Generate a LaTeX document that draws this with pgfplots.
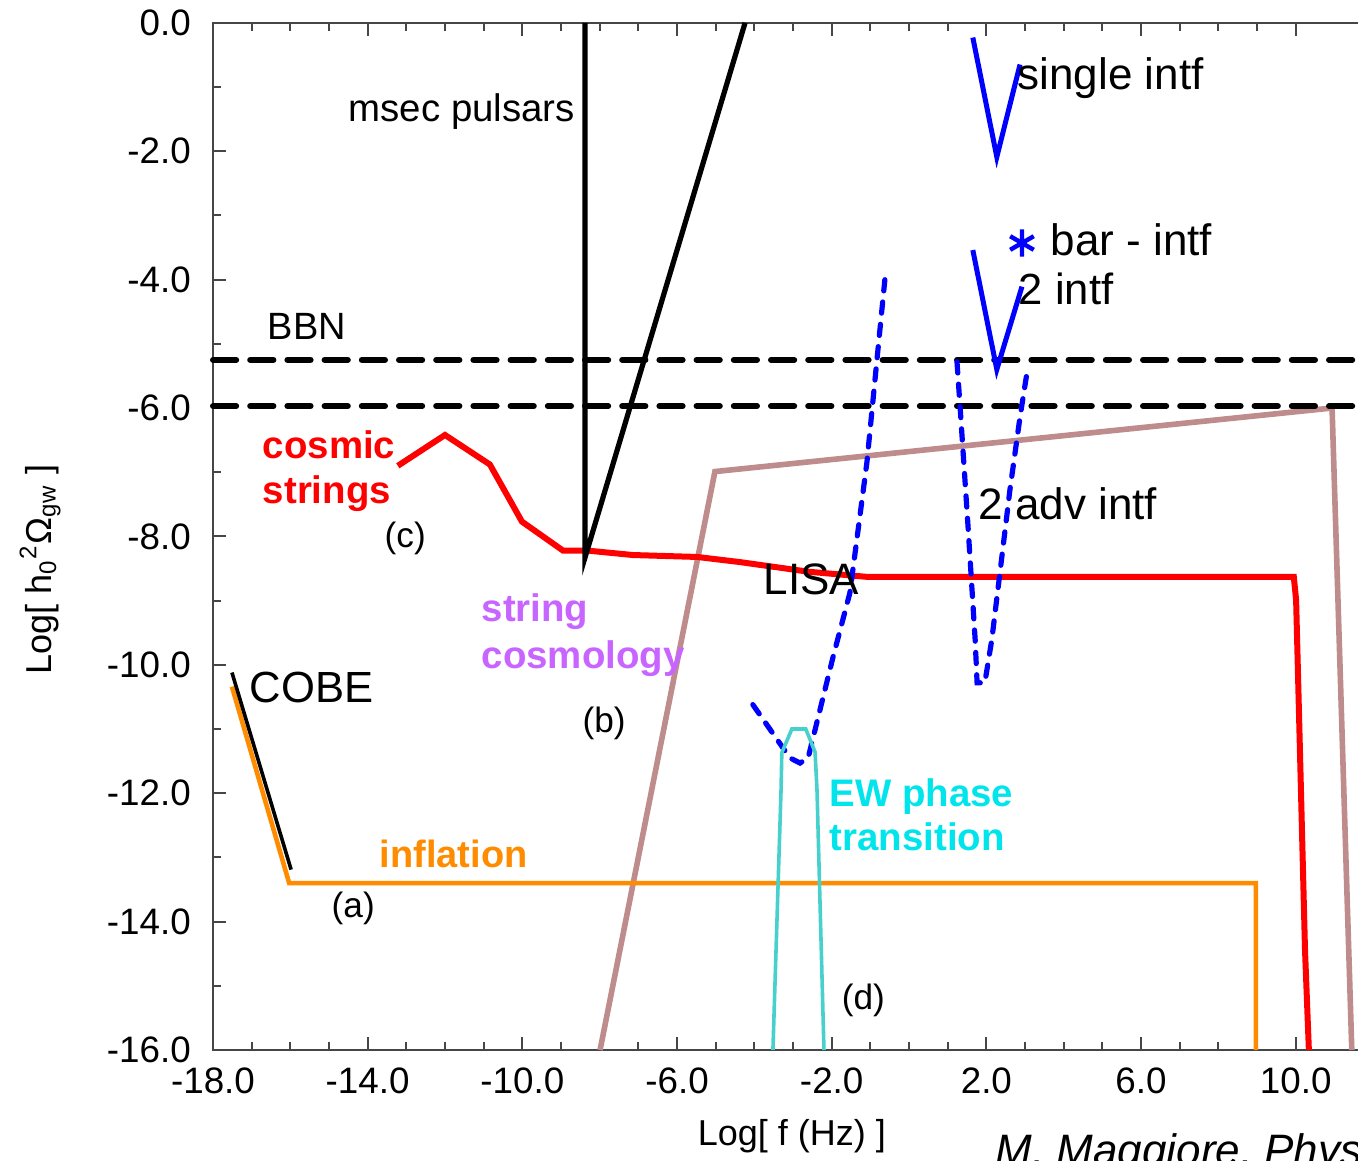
\documentclass[border=0pt]{standalone}
\usepackage{fontspec}
\setmainfont{Liberation Sans}
\usepackage{pgfplots}
\pgfplotsset{compat=1.18}
\definecolor{rosy}{RGB}{190,140,140}
\definecolor{orng}{RGB}{255,140,0}
\definecolor{turq}{RGB}{72,209,204}
\definecolor{cyantxt}{RGB}{0,228,235}
\definecolor{violettxt}{RGB}{200,100,255}
\definecolor{framegray}{RGB}{70,70,70}

\begin{document}
\begin{tikzpicture}[lbl/.style={anchor=base west, inner sep=0pt}]
\begin{axis}[
    name=ax,
    x=9.667pt, y=16.05pt,
    xmin=-18, xmax=12, ymin=-16, ymax=0,
    clip=false,
    axis line style={framegray, line width=0.5pt},
    tick style={framegray, line width=0.5pt},
    tick align=inside,
    major tick length=3.3pt, minor tick length=2pt,
    xtick={-18,-14,...,10},
    xticklabels={-18.0,-14.0,-10.0,-6.0,-2.0,2.0,6.0,10.0},
    ytick={-16,-14,...,0},
    yticklabels={-16.0,-14.0,-12.0,-10.0,-8.0,-6.0,-4.0,-2.0,0.0},
    minor x tick num=3, minor y tick num=1,
    ticklabel style={font=\fontsize{9.2}{10}\selectfont},
    xticklabel style={yshift=-1pt},
    yticklabel style={xshift=-2pt},
    xlabel={Log[ f (Hz) ]},
    ylabel={Log[ h\textsubscript{0}\textsuperscript{2}Ω\textsubscript{gw} ]},
    x label style={at={(axis cs:-3.03,-16)}, anchor=base, yshift=-23.75pt, font=\fontsize{9}{10}\selectfont},
    y label style={at={(axis cs:-22.47,-8.52)}, anchor=center, font=\fontsize{9}{10}\selectfont},
]
% string cosmology (b)
\addplot[rosy, line width=1.4pt] coordinates {
    (-7.99,-16) (-5.02,-6.99) (10.94,-6.0) (11.45,-16)
};
% inflation (a)
\addplot[orng, line width=1.15pt] coordinates {
    (-17.51,-10.34) (-16.03,-13.40) (8.97,-13.40) (8.97,-16)
};
% COBE
\addplot[black, line width=0.9pt] coordinates {
    (-17.51,-10.12) (-15.98,-13.19)
};
% cosmic strings (c)
\addplot[red, line width=1.5pt] coordinates {
    (-13.22,-6.90) (-12.00,-6.42) (-10.84,-6.88) (-10.01,-7.77)
    (-8.95,-8.22) (-8.33,-8.22) (-7.14,-8.29) (-5.48,-8.32)
    (-4.37,-8.40) (-2.60,-8.55) (-1.09,-8.63) (9.95,-8.63)
    (10.01,-8.99) (10.24,-14.44) (10.34,-16)
};
% msec pulsars
\addplot[black, line width=1.3pt] coordinates {
    (-8.38,0) (-8.38,-8.33) (-4.24,0)
};
% BBN
\addplot[black, line width=1.5pt, line cap=round, dash pattern=on 5.8pt off 3.5pt] coordinates {
    (-18,-5.25) (12,-5.25)
};
\addplot[black, line width=1.5pt, line cap=round, dash pattern=on 5.8pt off 3.5pt] coordinates {
    (-18,-5.97) (12,-5.97)
};
% LISA
\addplot[blue, line width=1.3pt, line cap=round, dash pattern=on 2.8pt off 2.8pt] coordinates {
    (-4.04,-10.62) (-3.08,-11.45) (-2.82,-11.53) (-2.61,-11.45)
    (-1.97,-9.89) (-1.53,-8.88) (-1.09,-6.85) (-0.83,-5.25) (-0.62,-3.97)
};
% 2 adv intf
\addplot[blue, line width=1.3pt, line cap=round, dash pattern=on 2.8pt off 2.8pt] coordinates {
    (1.24,-5.28) (1.32,-5.98) (1.52,-7.79) (1.71,-9.61) (1.76,-10.28)
    (1.96,-10.28) (2.14,-9.61) (2.35,-8.57) (2.61,-7.27) (2.87,-6.14) (3.05,-5.45)
};
% single intf
\addplot[blue, line width=1.25pt] coordinates {
    (1.65,-0.23) (2.27,-2.09) (2.87,-0.65)
};
% 2 intf
\addplot[blue, line width=1.25pt] coordinates {
    (1.65,-3.54) (2.27,-5.40) (2.92,-4.11)
};
% bar - intf
\addplot[blue, only marks, mark=asterisk, mark size=3.4pt, mark options={line width=1.1pt}] coordinates {
    (2.92,-3.43)
};
% EW phase transition (d)
\addplot[turq, line width=0.9pt] coordinates {
    (-3.52,-16) (-3.31,-11.95) (-3.29,-11.37) (-3.03,-11.0)
    (-2.67,-11.0) (-2.43,-11.36) (-2.38,-11.95) (-2.20,-16)
};

\node[lbl, font=\fontsize{9.6}{11}\selectfont] at (axis cs:-14.51,-1.54) {msec pulsars};
\node[lbl, font=\fontsize{11}{13}\selectfont] at (axis cs:2.79,-1.04) {single intf};
\node[lbl, font=\fontsize{11}{13}\selectfont] at (axis cs:3.64,-3.63) {bar - intf};
\node[lbl, font=\fontsize{10.9}{13}\selectfont] at (axis cs:2.82,-4.39) {2 intf};
\node[lbl, font=\fontsize{9.5}{11}\selectfont] at (axis cs:-16.60,-4.94) {BBN};
\node[lbl, font=\bfseries\fontsize{9.6}{11}\selectfont, red] at (axis cs:-16.73,-6.78) {cosmic};
\node[lbl, font=\bfseries\fontsize{9.6}{11}\selectfont, red] at (axis cs:-16.73,-7.48) {strings};
\node[lbl, font=\fontsize{8.8}{10}\selectfont] at (axis cs:-13.58,-8.18) {(c)};
\node[lbl, font=\fontsize{11}{13}\selectfont] at (axis cs:1.78,-7.74) {2 adv intf};
\node[lbl, font=\fontsize{11}{13}\selectfont] at (axis cs:-3.78,-8.91) {LISA};
\node[lbl, font=\bfseries\fontsize{9.6}{11}\selectfont, violettxt] at (axis cs:-11.07,-9.33) {string};
\node[lbl, font=\bfseries\fontsize{9.6}{11}\selectfont, violettxt] at (axis cs:-11.07,-10.05) {cosmology};
\node[lbl, font=\fontsize{10.9}{13}\selectfont] at (axis cs:-17.07,-10.59) {COBE};
\node[lbl, font=\fontsize{8.8}{10}\selectfont] at (axis cs:-8.46,-11.06) {(b)};
\node[lbl, font=\bfseries\fontsize{9.6}{11}\selectfont, cyantxt] at (axis cs:-2.07,-12.20) {EW phase};
\node[lbl, font=\bfseries\fontsize{9.6}{11}\selectfont, cyantxt] at (axis cs:-2.07,-12.90) {transition};
\node[lbl, font=\bfseries\fontsize{9.5}{11}\selectfont, orng] at (axis cs:-13.71,-13.15) {inflation};
\node[lbl, font=\fontsize{8.8}{10}\selectfont] at (axis cs:-14.95,-13.93) {(a)};
\node[lbl, font=\fontsize{8.8}{10}\selectfont] at (axis cs:-1.76,-15.37) {(d)};
\node[lbl, font=\itshape\fontsize{11}{13}\selectfont] at (axis cs:2.22,-17.80) {M. Maggiore, Phys. Rep. 331 (2000) 283};
\end{axis}
\pgfresetboundingbox
\path[use as bounding box] ([shift={(-53.25pt,-27.5pt)}]ax.south west) rectangle ++(339.5pt,290pt);
\end{tikzpicture}
\end{document}
